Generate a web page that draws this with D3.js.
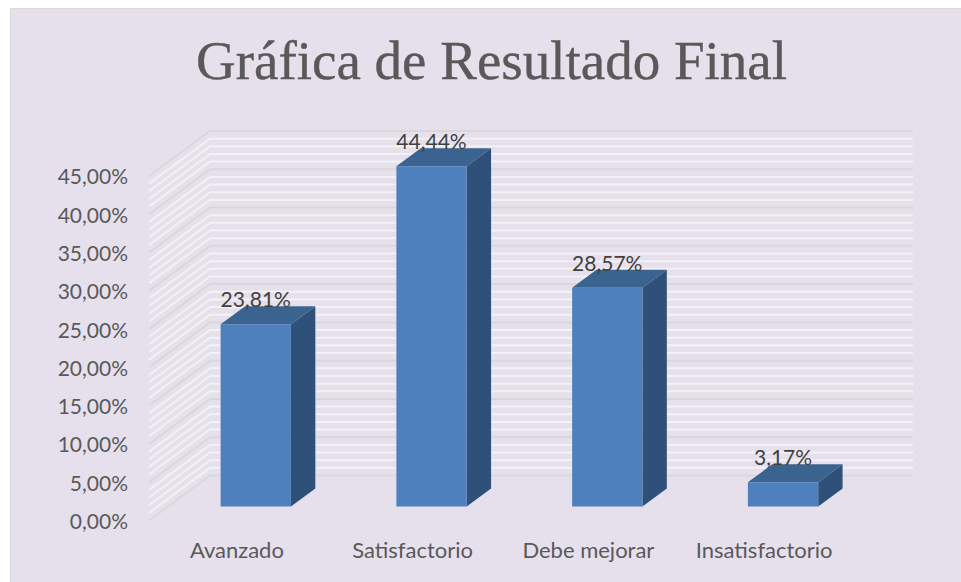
<!DOCTYPE html>
<html>
<head>
<meta charset="utf-8">
<script src="https://cdn.jsdelivr.net/npm/d3@7"></script>
<style>
  html, body { margin: 0; padding: 0; background: #fff; }
  svg { display: block; }
  .axis text { font-family: Lato, sans-serif; fill: #595959; }
</style>
</head>
<body>
<svg id="chart"></svg>
<script>
var categories = ['Avanzado', 'Satisfactorio', 'Debe mejorar', 'Insatisfactorio'];
var values = [23.81, 44.44, 28.57, 3.17];
var valueLabels = ['23,81%', '44,44%', '28,57%', '3,17%'];
var majorTicks = [0, 5, 10, 15, 20, 25, 30, 35, 40, 45];
var minorTicks = [1, 2, 3, 4, 6, 7, 8, 9, 11, 12, 13, 14, 16, 17, 18, 19, 21, 22, 23, 24,
  26, 27, 28, 29, 31, 32, 33, 34, 36, 37, 38, 39, 41, 42, 43, 44];

var size = { width: 961, height: 582 };
var plot = { left: 149, right: 852, top: 176, bottom: 520.5 };
var depth = { dx: 61, dy: -45, barFront: 0.31, barBack: 0.71 };

var svg = d3.select('#chart')
  .attr('width', size.width)
  .attr('height', size.height);

svg.append('rect')
  .attr('x', 10.5)
  .attr('y', 8.5)
  .attr('width', size.width)
  .attr('height', size.height)
  .attr('fill', '#e6e0ec')
  .attr('stroke', '#d9d9d9');

svg.append('text')
  .attr('x', 491.5)
  .attr('y', 79)
  .attr('text-anchor', 'middle')
  .attr('font-family', '"Liberation Serif", serif')
  .attr('font-size', 55)
  .attr('fill', '#595959')
  .attr('stroke', '#595959')
  .attr('stroke-width', 0.4)
  .text('Gráfica de Resultado Final');

var x = d3.scaleBand()
  .domain(categories)
  .range([plot.left, plot.right])
  .paddingInner(0)
  .paddingOuter(0);

var y = d3.scaleLinear()
  .domain([0, 45])
  .range([plot.bottom, plot.top]);

// maps a point on the front plane back along the depth axis
var project = (px, py, d) => [px + d * depth.dx, py + d * depth.dy];
var line = d3.line();

var wall = svg.append('g').attr('fill', 'none');

var drawGrid = (ticks, color, width) => {
  wall.selectAll(null)
    .data(ticks)
    .enter().append('path')
      .attr('stroke', color)
      .attr('stroke-width', width)
      .attr('d', d => line([
        [plot.left, y(d)],
        project(plot.left, y(d), 1),
        project(plot.right, y(d), 1)
      ]));
};

drawGrid(minorTicks, '#f3f1f3', 2);
drawGrid(majorTicks, '#d9d8d8', 2);

var barWidth = x.bandwidth() * 0.4;
var barLeft = c => x(c) + (x.bandwidth() - barWidth) / 2;

var bars = svg.append('g')
  .selectAll('g')
  .data(categories)
  .enter().append('g');

var face = (c, i, corners) => line(corners.map(p =>
  project(barLeft(c) + p[0] * barWidth, y(p[1] * values[i]), p[2])));

// y(0) is the floor, so the bar rises from the floor at its own depth
bars.append('path')
  .attr('fill', '#2f5179')
  .attr('d', (c, i) => face(c, i, [[1, 0, depth.barFront], [1, 0, depth.barBack], [1, 1, depth.barBack], [1, 1, depth.barFront]]) + 'Z');

bars.append('path')
  .attr('fill', '#3a6390')
  .attr('d', (c, i) => face(c, i, [[0, 1, depth.barFront], [0, 1, depth.barBack], [1, 1, depth.barBack], [1, 1, depth.barFront]]) + 'Z');

bars.append('path')
  .attr('fill', '#4e80bd')
  .attr('d', (c, i) => face(c, i, [[0, 0, depth.barFront], [1, 0, depth.barFront], [1, 1, depth.barFront], [0, 1, depth.barFront]]) + 'Z');

bars.append('text')
  .attr('x', (c, i) => project(barLeft(c) + barWidth / 2, y(values[i]), depth.barFront)[0])
  .attr('y', (c, i) => project(0, y(values[i]), depth.barBack)[1] + 1)
  .attr('text-anchor', 'middle')
  .attr('font-family', 'Lato, sans-serif')
  .attr('font-size', 21)
  .attr('fill', '#404040')
  .text((c, i) => valueLabels[i]);

var yAxis = d3.axisLeft(y)
  .tickValues(majorTicks)
  .tickSize(0)
  .tickPadding(21)
  .tickFormat(d => d3.format('.2f')(d).replace('.', ',') + '%');

svg.append('g')
  .attr('class', 'axis y')
  .attr('transform', `translate(${ plot.left }, 0)`)
  .call(yAxis)
  .call(g => g.select('.domain').remove())
  .selectAll('text')
    .attr('font-size', 21)
    .attr('dy', '0.38em');

var xAxis = d3.axisBottom(x)
  .tickSize(0)
  .tickPadding(22);

svg.append('g')
  .attr('class', 'axis x')
  .attr('transform', `translate(0, ${ plot.bottom })`)
  .call(xAxis)
  .call(g => g.select('.domain').remove())
  .selectAll('text')
    .attr('font-size', 22);
</script>
</body>
</html>
